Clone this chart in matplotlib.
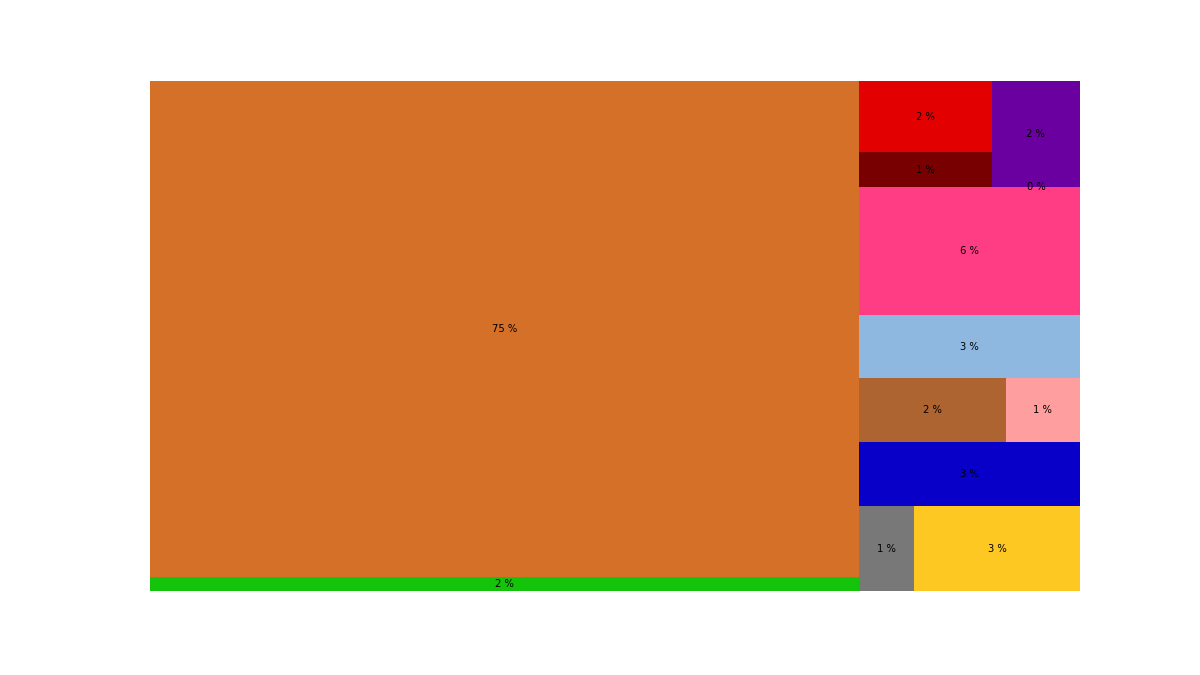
import matplotlib
matplotlib.use("Agg")
import matplotlib.pyplot as plt
from matplotlib.patches import Rectangle

# Data (share of total, %)
values = [74.14, 2.09, 1.99, 0.98, 1.97, 0.0, 5.96, 2.94, 1.98, 1.0, 2.98, 0.99, 2.97]
labels = ["75 %", "2 %", "2 %", "1 %", "2 %", "0 %", "6 %", "3 %", "2 %", "1 %", "3 %", "1 %", "3 %"]
colors = ["#D57028", "#14C40A", "#E30000", "#780000", "#6A00A0", "#6A00A0",
          "#FF3D84", "#8FB8E0", "#AD6430", "#FF9E9E", "#0800C8", "#787878", "#FEC823"]

# Nested slice-and-dice structure (indices into the lists above)
tree = [[0, 1],
        [[[2, 3], [4, 5]], 6, 7, [8, 9], 10, [11, 12]]]


def size(node):
    if isinstance(node, int):
        return values[node]
    return sum(size(c) for c in node)


rects = {}


def layout(node, x, y, w, h, horizontal):
    if isinstance(node, int):
        rects[node] = (x, y, w, h)
        return
    total = size(node)
    pos = x if horizontal else y
    for c in node:
        frac = size(c) / total if total else 0
        if horizontal:
            cw = w * frac
            layout(c, pos, y, cw, h, not horizontal)
            pos += cw
        else:
            ch = h * frac
            layout(c, x, pos, w, ch, not horizontal)
            pos += ch


layout(tree, 0, 0, 100, 100, True)

fig = plt.figure(figsize=(12, 6.75), dpi=100)
ax = fig.add_axes([150 / 1200, (675 - 591) / 675, 930 / 1200, 510 / 675])
ax.set_xlim(0, 100)
ax.set_ylim(100, 0)
ax.axis("off")

for i in range(len(values)):
    x, y, w, h = rects[i]
    ax.add_patch(Rectangle((x, y), w, h, facecolor=colors[i], edgecolor="none"))
for i in range(len(values)):
    x, y, w, h = rects[i]
    ax.text(x + w / 2, y + h / 2, labels[i], ha="center", va="center", fontsize=7.2, color="black")

fig.savefig("out.png", dpi=100)
